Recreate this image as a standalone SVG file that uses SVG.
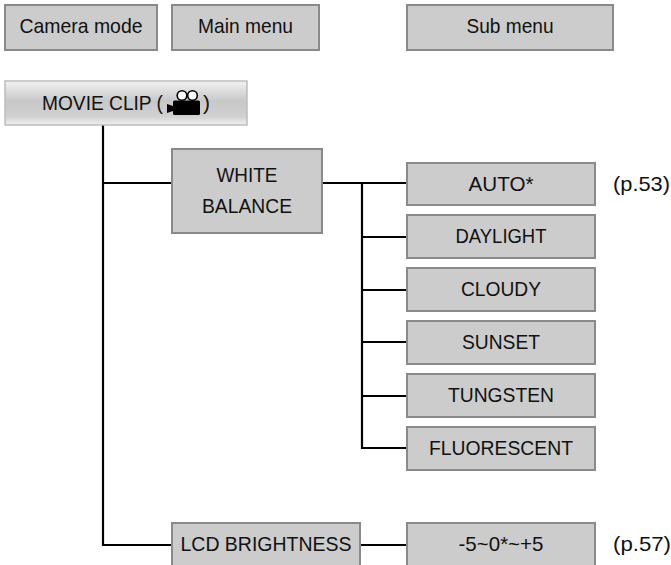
<svg xmlns="http://www.w3.org/2000/svg" width="671" height="565" viewBox="0 0 671 565">
<defs>
<style>
.box{fill:#cccccc;stroke:#8a8a8a;stroke-width:2}
.t{font-family:"Liberation Sans",Arial,sans-serif;font-size:21px;fill:#111;text-anchor:middle}
.p{font-family:"Liberation Sans",Arial,sans-serif;font-size:21px;fill:#111}
.ln{stroke:#000;stroke-width:2.2;fill:none}
</style>
<linearGradient id="g" x1="0" y1="0" x2="0" y2="1">
<stop offset="0" stop-color="#f2f2f2"/>
<stop offset="0.45" stop-color="#c8c8c8"/>
<stop offset="0.8" stop-color="#d0d0d0"/>
<stop offset="1" stop-color="#f0f0f0"/>
</linearGradient>
</defs>
<rect width="671" height="565" fill="#fff"/>
<g id="connectors">
<path class="ln" d="M103 125V545H172"/>
<path class="ln" d="M103 183H172"/>
<path class="ln" d="M322 183H407"/>
<path class="ln" d="M362 183V448H407"/>
<path class="ln" d="M362 237H407M362 290H407M362 342H407M362 396H407"/>
<path class="ln" d="M360 545H407"/>
</g>
<g id="legend-camera-mode"><rect class="box" x="5" y="5" width="152" height="45"/><text class="t" x="81" y="33" textLength="123" lengthAdjust="spacingAndGlyphs">Camera mode</text></g>
<g id="legend-main-menu"><rect class="box" x="172" y="5" width="147" height="45"/><text class="t" x="245.5" y="33" textLength="95" lengthAdjust="spacingAndGlyphs">Main menu</text></g>
<g id="legend-sub-menu"><rect class="box" x="407" y="5" width="206" height="45"/><text class="t" x="510" y="33" textLength="87" lengthAdjust="spacingAndGlyphs">Sub menu</text></g>
<g id="movie-clip">
<rect x="5" y="81" width="242" height="44" fill="url(#g)" stroke="#bdbdbd" stroke-width="1.5"/>
<text class="p" x="42" y="110" textLength="121" lengthAdjust="spacingAndGlyphs">MOVIE CLIP (</text>
<g id="movie-icon">
<circle cx="182" cy="95.5" r="4.8" fill="#fff" stroke="#000" stroke-width="1.6"/>
<circle cx="192.5" cy="95.5" r="4.8" fill="#fff" stroke="#000" stroke-width="1.6"/>
<rect x="173" y="100.5" width="27" height="14.5" rx="1.5" fill="#000"/>
<polygon points="167,104 173,106 173,111 167,113" fill="#000"/>
</g>
<text class="p" x="203" y="110">)</text>
</g>
<g id="white-balance"><rect class="box" x="172" y="149" width="150" height="84"/><text class="t" x="247" y="182" textLength="61" lengthAdjust="spacingAndGlyphs">WHITE</text><text class="t" x="247" y="213" textLength="90" lengthAdjust="spacingAndGlyphs">BALANCE</text></g>
<g id="auto"><rect class="box" x="407" y="163" width="188" height="42"/><text class="t" x="501" y="191" textLength="65" lengthAdjust="spacingAndGlyphs">AUTO*</text></g>
<g id="daylight"><rect class="box" x="407" y="215" width="188" height="43"/><text class="t" x="501" y="243" textLength="91" lengthAdjust="spacingAndGlyphs">DAYLIGHT</text></g>
<g id="cloudy"><rect class="box" x="407" y="268" width="188" height="43"/><text class="t" x="501" y="296" textLength="80" lengthAdjust="spacingAndGlyphs">CLOUDY</text></g>
<g id="sunset"><rect class="box" x="407" y="321" width="188" height="43"/><text class="t" x="501" y="349" textLength="78" lengthAdjust="spacingAndGlyphs">SUNSET</text></g>
<g id="tungsten"><rect class="box" x="407" y="374" width="188" height="43"/><text class="t" x="501" y="402" textLength="106" lengthAdjust="spacingAndGlyphs">TUNGSTEN</text></g>
<g id="fluorescent"><rect class="box" x="407" y="427" width="188" height="43"/><text class="t" x="501" y="455" textLength="144" lengthAdjust="spacingAndGlyphs">FLUORESCENT</text></g>
<g id="lcd-brightness"><rect class="box" x="172" y="523" width="188" height="46"/><text class="t" x="266" y="551" textLength="171" lengthAdjust="spacingAndGlyphs">LCD BRIGHTNESS</text></g>
<g id="brightness-range"><rect class="box" x="407" y="523" width="188" height="46"/><text class="t" x="501" y="551" textLength="85" lengthAdjust="spacingAndGlyphs">-5~0*~+5</text></g>
<text id="ref-p53" class="p" x="613" y="191" textLength="57" lengthAdjust="spacingAndGlyphs">(p.53)</text>
<text id="ref-p57" class="p" x="613" y="551" textLength="58" lengthAdjust="spacingAndGlyphs">(p.57)</text>
</svg>
